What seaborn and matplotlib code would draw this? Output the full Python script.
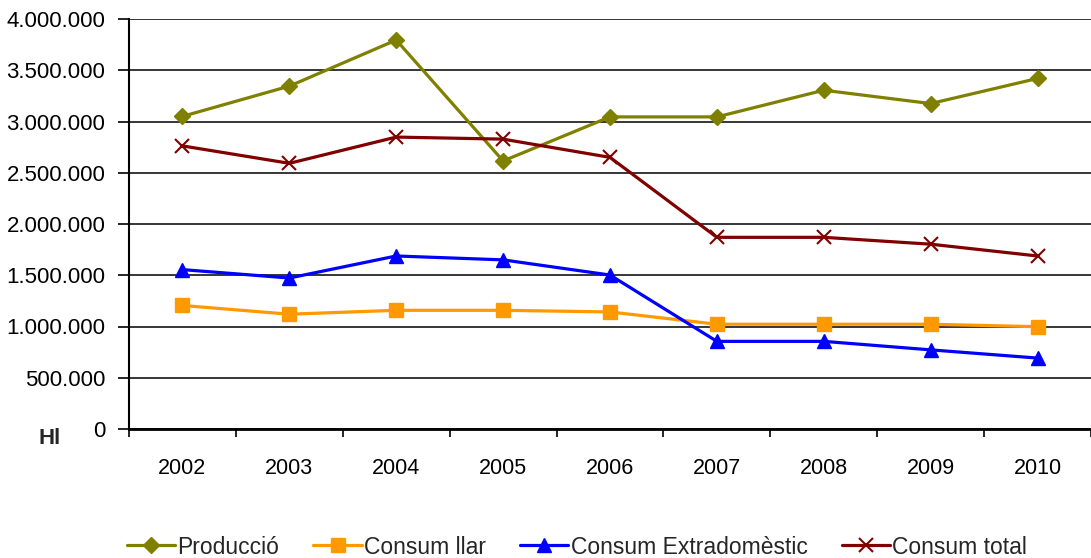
import matplotlib
matplotlib.use("Agg")
import matplotlib.pyplot as plt
import seaborn as sns
import pandas as pd
from matplotlib.ticker import FuncFormatter, FixedLocator

years = ["2002", "2003", "2004", "2005", "2006", "2007", "2008", "2009", "2010"]
produccio = [3050000, 3345000, 3795000, 2615000, 3045000, 3045000, 3305000, 3175000, 3420000]
consum_llar = [1205000, 1120000, 1158000, 1158000, 1142000, 1022000, 1022000, 1022000, 998000]
consum_extra = [1555000, 1473000, 1688000, 1650000, 1502000, 855000, 855000, 772000, 692000]
consum_total = [2762000, 2592000, 2848000, 2828000, 2650000, 1870000, 1870000, 1803000, 1688000]

series_names = ["Producció", "Consum llar", "Consum Extradomèstic", "Consum total"]
series_vals = [produccio, consum_llar, consum_extra, consum_total]
colors = ["#808000", "#FF9900", "#0000FF", "#800000"]
markers = ["D", "s", "^", "x"]
msizes = [8.5, 10, 10, 10]

rows = []
for name, vals in zip(series_names, series_vals):
    for i, (y, v) in enumerate(zip(years, vals)):
        rows.append({"pos": i, "year": y, "value": v, "serie": name})
df = pd.DataFrame(rows)

sns.set_theme(style="white")
plt.rcParams["font.family"] = ["Liberation Sans", "DejaVu Sans"]

fig = plt.figure(figsize=(10.91, 5.58), dpi=100)
ax = fig.add_axes([129/1091, 1-429/558, 1-129/1091, (429-19)/558])

for name, c, m, ms in zip(series_names, colors, markers, msizes):
    sub = df[df["serie"] == name]
    sns.lineplot(data=sub, x="pos", y="value", ax=ax, color=c, linewidth=2.3,
                 marker=m, markersize=ms, markeredgecolor=c, markerfacecolor=c,
                 markeredgewidth=1.5 if m == "x" else 1, label=name, legend=False)

ax.set_xlim(-0.5, len(years) - 0.5)
ax.set_ylim(0, 4000000)
ax.set_yticks([i * 500000 for i in range(9)])
ax.yaxis.set_major_formatter(FuncFormatter(lambda v, p: f"{int(v):,}".replace(",", ".")))
ax.set_xticks(range(len(years)))
ax.set_xticklabels(years)
ax.xaxis.set_minor_locator(FixedLocator([i - 0.5 for i in range(len(years) + 1)]))
ax.tick_params(axis="x", which="major", length=0, pad=21, labelsize=15.5, colors="black")
ax.tick_params(axis="x", which="minor", length=6, width=1.2, color="black", direction="out", bottom=True)
ax.tick_params(axis="y", which="major", length=8, width=1.2, color="black", direction="out",
               left=True, pad=9, labelsize=16, labelcolor="black")
ax.set_xlabel("")
ax.set_ylabel("")
ax.grid(axis="y", color="black", linewidth=1.1)
ax.set_axisbelow(True)
for s in ["top", "right"]:
    ax.spines[s].set_visible(False)
ax.spines["left"].set_color("black")
ax.spines["left"].set_linewidth(1.5)
ax.spines["bottom"].set_color("black")
ax.spines["bottom"].set_linewidth(2)

fig.text(39/1091, 1-439/558, "Hl", fontsize=16, fontweight="bold", va="center", ha="left")

h, l = ax.get_legend_handles_labels()
fig.legend(h, l, loc="center", bbox_to_anchor=(577/1091, 1-547/558), ncol=4, frameon=False,
           fontsize=16.5, handlelength=2.1, handletextpad=0.1, columnspacing=1.5, borderpad=0)

fig.savefig("out.png", dpi=100)
